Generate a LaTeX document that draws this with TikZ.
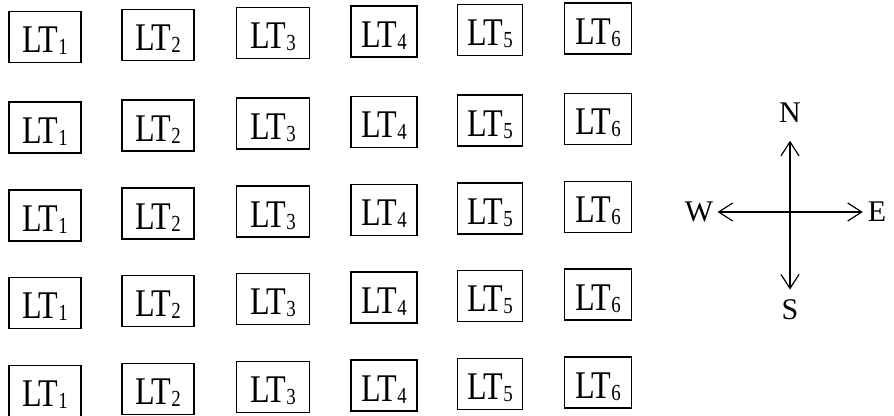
\documentclass[tikz,border=0pt]{standalone}
\usepackage{fontspec}
\setmainfont{Liberation Serif}
\newfontfamily\ltfont[FakeStretch=0.82]{Liberation Serif}
\usetikzlibrary{arrows.meta}
\newcommand{\ltsub}[1]{\raisebox{-1pt}{\fontsize{11.5}{12}\selectfont#1}}

\begin{document}
\begin{tikzpicture}[x=0.5pt,y=-0.5pt,
  ltbox/.style={draw,line width=0.9pt,inner sep=0pt,minimum height=25.5pt,
    text height=16pt,text depth=0pt,font=\ltfont\fontsize{19.6}{20}\selectfont},
  dirlabel/.style={inner sep=1pt,font=\fontsize{15}{16}\selectfont},
  dirarrow/.style={line width=0.6pt,
    {Straight Barb[length=7pt,width=9pt]}-{Straight Barb[length=7pt,width=9pt]}}]
\useasboundingbox (0,0) rectangle (894,416);
% grid of tiles
\foreach \r/\y in {1/37,2/127.5,3/215.5,4/303,5/391}
  \foreach \c/\x/\w/\dy in {1/45/72/0,2/158/72/-2,3/273/73/-4,4/384/66/-5.5,5/490/65/-7,6/598/67/-8.5}
    \node[ltbox,minimum width={\w*0.5pt}] (lt\r\c) at (\x,\y+\dy) {LT\ltsub{\c}};
% compass
\node[dirlabel] (N) at (790,112.5) {N};
\node[dirlabel] (S) at (790,310) {S};
\node[dirlabel] (W) at (699,212) {W};
\node[dirlabel] (E) at (877,212) {E};
\draw[dirarrow,shorten <=8pt,shorten >=4pt] (N) -- (S);
\draw[dirarrow,shorten <=1pt,shorten >=1.3pt] (W) -- (E);
\end{tikzpicture}
\end{document}
